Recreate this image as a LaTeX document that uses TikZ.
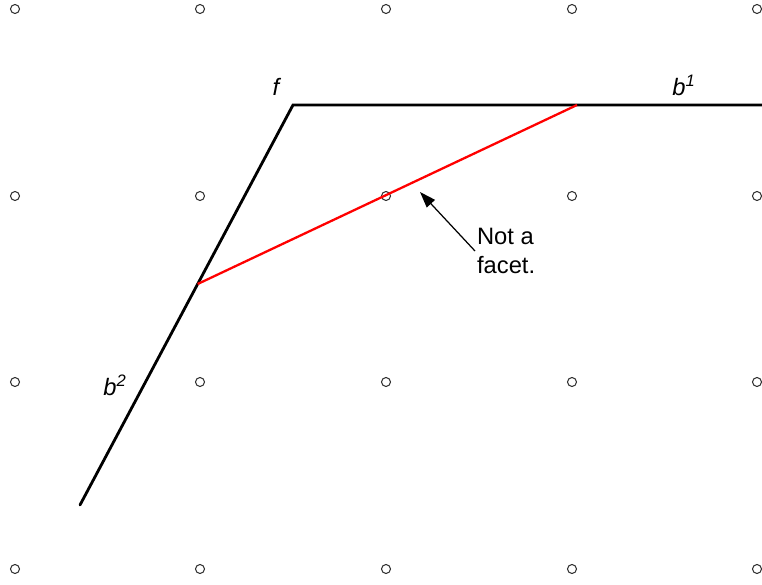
\documentclass[tikz,border=0pt]{standalone}
\usepackage{fontspec}
\setmainfont{Liberation Sans}
\usetikzlibrary{arrows.meta,calc}

\begin{document}
\begin{tikzpicture}[
  x=0.02cm, y=-0.02cm,
  font=\fontsize{13.5}{16}\selectfont,
  gridpt/.style={draw=black!80, line width=0.6pt},
  edge/.style={line width=1.6pt, line cap=round},
  cut/.style={draw=red, line width=1.3pt},
  arr/.style={-{Triangle[length=3.2mm, width=2.2mm]}, line width=0.7pt},
  lbl/.style={inner sep=1pt, font=\fontsize{13.5}{16}\selectfont\itshape}
]
\useasboundingbox (0,0) rectangle (762,585);

% lattice points
\foreach \xx in {15,200,386,572,757}
  \foreach \yy in {9,196,382,569}
    \draw[gridpt] (\xx,\yy) circle (4.5);

% the cone
\coordinate (f) at (293,105);
\coordinate (r1) at (762,105);
\coordinate (r2) at (80,505);
\coordinate (p2) at ($(f)!0.4475!(r2)$);
\coordinate (p1) at (577,105);
\draw[edge] (r1) -- (f) -- (r2);
\draw[cut] (p2) -- (p1);

% labels
\node[lbl] (flbl) at (276,87) {f};
\node[lbl] (b1lbl) at (684,85) {b\textsuperscript{1}};
\node[lbl] (b2lbl) at (115,385) {b\textsuperscript{2}};

\node[align=left, anchor=west, inner sep=1pt] (note) at (475,251) {Not a\\facet.};
\coordinate (tip) at (420,192);
\draw[arr] (note.west) -- (tip);
\end{tikzpicture}
\end{document}
